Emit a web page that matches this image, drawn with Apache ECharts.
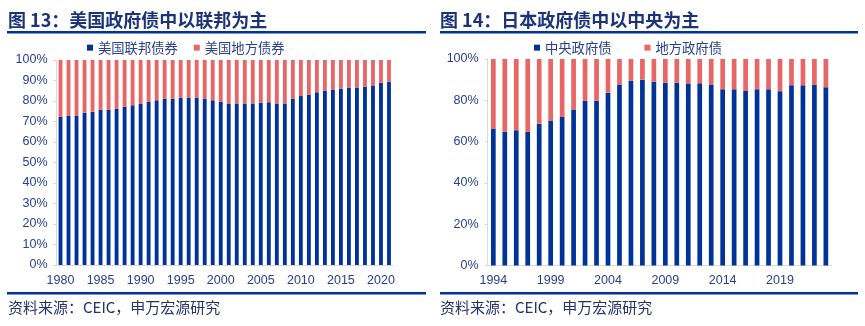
<!DOCTYPE html>
<html>
<head>
<meta charset="utf-8">
<script src="https://cdn.jsdelivr.net/npm/echarts@6/dist/echarts.min.js"></script>
<style>
  html, body { margin: 0; padding: 0; background: #fff; }
  #main { width: 865px; height: 326px; }
</style>
</head>
<body>
<div id="main"></div>
<script>
var myChart = echarts.init(document.getElementById('main'));

// 图13 美国：联邦 / 地方 债券占比 (%)
var usYears = ['1980','1981','1982','1983','1984','1985','1986','1987','1988','1989',
               '1990','1991','1992','1993','1994','1995','1996','1997','1998','1999',
               '2000','2001','2002','2003','2004','2005','2006','2007','2008','2009',
               '2010','2011','2012','2013','2014','2015','2016','2017','2018','2019',
               '2020','2021'];
var usFederal = [72.2, 72.7, 72.7, 74.3, 74.8, 75.7, 75.7, 76.1, 77.1, 77.9,
                 78.8, 79.6, 80.4, 81.0, 81.0, 81.5, 81.5, 81.5, 81.0, 80.4,
                 79.6, 78.8, 78.8, 78.8, 78.8, 79.2, 79.4, 78.8, 78.8, 81.0,
                 82.4, 83.0, 84.3, 85.0, 85.6, 85.9, 86.4, 86.6, 86.9, 87.6,
                 88.9, 89.4];
var usLocal = [27.8, 27.3, 27.3, 25.7, 25.2, 24.3, 24.3, 23.9, 22.9, 22.1,
               21.2, 20.4, 19.6, 19.0, 19.0, 18.5, 18.5, 18.5, 19.0, 19.6,
               20.4, 21.2, 21.2, 21.2, 21.2, 20.8, 20.6, 21.2, 21.2, 19.0,
               17.6, 17.0, 15.7, 15.0, 14.4, 14.1, 13.6, 13.4, 13.1, 12.4,
               11.1, 10.6];

// 图14 日本：中央 / 地方 政府债占比 (%)
var jpYears = ['1994','1995','1996','1997','1998','1999','2000','2001','2002','2003',
               '2004','2005','2006','2007','2008','2009','2010','2011','2012','2013',
               '2014','2015','2016','2017','2018','2019','2020','2021','2022','2023'];
var jpCentral = [66.3, 64.8, 65.5, 64.7, 68.7, 70.0, 71.9, 75.5, 79.8, 79.8,
                 83.7, 87.6, 89.4, 90.0, 89.0, 88.5, 88.5, 88.1, 88.2, 87.4,
                 85.3, 85.3, 84.5, 85.3, 85.3, 84.4, 87.3, 87.3, 87.7, 86.3];
var jpLocal = [33.7, 35.2, 34.5, 35.3, 31.3, 30.0, 28.1, 24.5, 20.2, 20.2,
               16.3, 12.4, 10.6, 10.0, 11.0, 11.5, 11.5, 11.9, 11.8, 12.6,
               14.7, 14.7, 15.5, 14.7, 14.7, 15.6, 12.7, 12.7, 12.3, 13.7];

var BLUE = '#003399';
var RED = '#E96666';
var NAVY = '#1b3378';
var LABEL = '#28408f';
var AXIS = '#d9d9d9';
var CJK = '"Noto Sans CJK SC", sans-serif';
var NUM = '"Liberation Sans", "Noto Sans CJK SC", sans-serif';

function xAxis(idx, data) {
    return {
        type: 'category', gridIndex: idx, data: data,
        axisLine: { lineStyle: { color: AXIS } },
        axisTick: { interval: 4, length: 4, lineStyle: { color: AXIS } },
        axisLabel: { interval: 4, color: LABEL, fontSize: 12.5, fontFamily: NUM, margin: 9 }
    };
}
function yAxis(idx, step) {
    return {
        type: 'value', gridIndex: idx, min: 0, max: 100, interval: step,
        axisLine: { show: true, lineStyle: { color: AXIS } },
        axisTick: { show: true, length: 3, lineStyle: { color: AXIS } },
        splitLine: { show: false },
        axisLabel: { formatter: '{value}%', color: LABEL, fontSize: 12.5, fontFamily: NUM, margin: 9 }
    };
}

var option = {
    animation: false,
    color: [BLUE, RED],
    title: [
        { text: '图 13：美国政府债中以联邦为主', left: 8, top: 11, padding: 0,
          textStyle: { color: NAVY, fontSize: 18, fontWeight: 'bold', fontFamily: CJK } },
        { text: '图 14：日本政府债中以中央为主', left: 440, top: 11, padding: 0,
          textStyle: { color: NAVY, fontSize: 18, fontWeight: 'bold', fontFamily: CJK } }
    ],
    legend: [
        { data: ['美国联邦债券', '美国地方债券'], left: 87, top: 41, padding: 0,
          icon: 'rect', itemWidth: 6, itemHeight: 6, itemGap: 16,
          textStyle: { color: LABEL, fontSize: 13.3, fontFamily: CJK } },
        { data: ['中央政府债', '地方政府债'], left: 534, top: 41, padding: 0,
          icon: 'rect', itemWidth: 6, itemHeight: 6, itemGap: 33,
          textStyle: { color: LABEL, fontSize: 13.3, fontFamily: CJK } }
    ],
    grid: [
        { left: 56.5, top: 60, width: 336.5, height: 205 },
        { left: 487.6, top: 59, width: 344, height: 206.5 }
    ],
    xAxis: [xAxis(0, usYears), xAxis(1, jpYears)],
    yAxis: [yAxis(0, 10), yAxis(1, 20)],
    series: [
        { name: '美国联邦债券', type: 'bar', stack: 'us', xAxisIndex: 0, yAxisIndex: 0,
          barWidth: '48%', data: usFederal },
        { name: '美国地方债券', type: 'bar', stack: 'us', xAxisIndex: 0, yAxisIndex: 0,
          barWidth: '48%', data: usLocal },
        { name: '中央政府债', type: 'bar', stack: 'jp', xAxisIndex: 1, yAxisIndex: 1,
          barWidth: '41%', data: jpCentral },
        { name: '地方政府债', type: 'bar', stack: 'jp', xAxisIndex: 1, yAxisIndex: 1,
          barWidth: '41%', data: jpLocal }
    ],
    graphic: [
        { type: 'rect', shape: { x: 7, y: 31, width: 419, height: 2.5 }, style: { fill: BLUE } },
        { type: 'rect', shape: { x: 440, y: 31, width: 418, height: 2.5 }, style: { fill: BLUE } },
        { type: 'rect', shape: { x: 7, y: 292, width: 419, height: 2.5 }, style: { fill: BLUE } },
        { type: 'rect', shape: { x: 440, y: 292, width: 418, height: 2.5 }, style: { fill: BLUE } },
        { type: 'text', left: 8, top: 300,
          style: { text: '资料来源：CEIC，申万宏源研究', fill: '#24326b', font: '15px ' + CJK } },
        { type: 'text', left: 440, top: 300,
          style: { text: '资料来源：CEIC，申万宏源研究', fill: '#24326b', font: '15px ' + CJK } }
    ]
};

myChart.setOption(option);
</script>
</body>
</html>
